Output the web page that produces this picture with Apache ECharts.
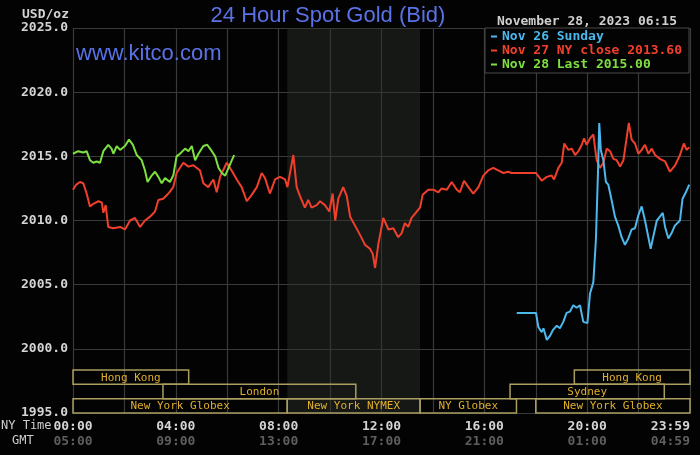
<!DOCTYPE html>
<html>
<head>
<meta charset="utf-8">
<script src="https://cdn.jsdelivr.net/npm/echarts@6/dist/echarts.min.js"></script>
<style>
html,body{margin:0;padding:0;background:#030303;}
#c{width:700px;height:455px;}
</style>
</head>
<body>
<div id="c"></div>
<script>
// ---- data (time in NY hours, price USD/oz) ----
const nov27Times = [0.00,0.13,0.27,0.40,0.53,0.66,0.79,0.99,1.12,1.18,1.27,1.37,1.57,1.83,2.02,2.22,2.41,2.61,2.80,3.00,3.19,3.32,3.51,3.71,3.90,4.03,4.29,4.49,4.68,4.94,5.07,5.26,5.46,5.59,5.72,5.98,6.17,6.37,6.56,6.76,6.95,7.15,7.34,7.47,7.66,7.86,8.05,8.25,8.34,8.57,8.70,8.83,9.02,9.15,9.28,9.48,9.61,9.80,9.97,10.10,10.20,10.32,10.51,10.65,10.78,10.97,11.16,11.36,11.55,11.66,11.75,11.88,12.07,12.27,12.46,12.65,12.78,12.91,13.04,13.17,13.37,13.50,13.60,13.82,14.02,14.21,14.34,14.54,14.73,14.93,15.05,15.21,15.38,15.57,15.77,15.96,16.15,16.35,16.54,16.74,16.93,17.06,18.01,18.23,18.43,18.62,18.71,18.88,19.01,19.11,19.27,19.40,19.53,19.66,19.79,19.88,19.98,20.11,20.24,20.37,20.50,20.63,20.76,20.89,21.02,21.15,21.28,21.41,21.54,21.62,21.73,21.86,21.99,22.12,22.25,22.38,22.51,22.64,22.83,23.03,23.22,23.42,23.61,23.76,23.87,23.97];
const nov27Values = [2012.4,2012.8,2013.0,2012.9,2012.1,2011.1,2011.3,2011.5,2011.4,2010.6,2011.2,2009.5,2009.4,2009.5,2009.3,2010.0,2010.2,2009.5,2010.0,2010.3,2010.7,2011.6,2011.7,2012.1,2012.6,2013.7,2014.5,2014.2,2014.3,2013.9,2012.9,2012.6,2013.2,2012.2,2013.4,2014.5,2013.9,2013.2,2012.6,2011.5,2012.0,2012.6,2013.7,2013.3,2012.1,2013.2,2013.4,2013.2,2012.6,2015.1,2012.6,2011.9,2011.0,2011.6,2011.0,2011.2,2011.5,2011.2,2010.7,2012.1,2010.0,2011.7,2012.6,2011.9,2010.3,2009.6,2008.9,2008.1,2007.8,2007.4,2006.3,2008.2,2010.2,2009.3,2009.4,2008.7,2009.0,2009.8,2009.5,2010.2,2010.7,2011.0,2012.0,2012.4,2012.4,2012.2,2012.5,2012.4,2013.0,2012.4,2012.2,2013.1,2012.6,2012.1,2012.6,2013.5,2013.9,2014.1,2013.9,2013.7,2013.8,2013.7,2013.7,2013.1,2013.4,2013.5,2013.2,2014.1,2014.5,2016.0,2015.5,2015.6,2015.1,2015.4,2015.9,2016.4,2015.9,2016.4,2016.7,2014.7,2014.1,2014.5,2015.6,2015.4,2014.8,2014.7,2014.2,2014.7,2016.5,2017.6,2016.3,2016.0,2015.2,2015.5,2015.9,2015.2,2015.6,2015.1,2014.8,2014.6,2013.8,2014.3,2015.1,2016.0,2015.5,2015.7];

const nov26Times = [17.26,18.01,18.10,18.23,18.30,18.43,18.55,18.68,18.82,18.94,19.07,19.20,19.33,19.46,19.59,19.72,19.85,20.01,20.11,20.24,20.34,20.42,20.47,20.53,20.63,20.73,20.82,20.95,21.08,21.21,21.34,21.47,21.60,21.73,21.86,21.99,22.12,22.25,22.38,22.47,22.60,22.71,22.83,22.94,23.03,23.16,23.28,23.41,23.61,23.71,23.84,23.97];
const nov26Values = [2002.8,2002.8,2001.7,2001.3,2001.6,2000.7,2001.0,2001.5,2001.8,2001.6,2002.1,2002.8,2002.9,2003.4,2003.2,2003.4,2002.1,2002.0,2004.3,2005.2,2008.5,2013.7,2017.6,2015.5,2014.7,2013.0,2012.8,2011.6,2010.3,2009.6,2008.7,2008.1,2008.6,2009.3,2009.4,2010.4,2011.1,2010.0,2008.7,2007.8,2009.0,2010.0,2010.3,2010.6,2009.5,2008.6,2009.0,2009.6,2010.0,2011.7,2012.2,2012.8];

const nov28Times = [0.00,0.20,0.40,0.53,0.66,0.79,0.92,1.05,1.18,1.37,1.50,1.57,1.70,1.83,2.02,2.18,2.33,2.48,2.67,2.80,2.90,3.06,3.19,3.32,3.45,3.58,3.77,3.90,4.03,4.16,4.36,4.49,4.62,4.75,4.88,5.07,5.22,5.40,5.53,5.66,5.79,5.92,6.05,6.18,6.27];
const nov28Values = [2015.2,2015.4,2015.3,2015.4,2014.7,2014.5,2014.6,2014.5,2015.4,2015.9,2015.6,2015.2,2015.8,2015.5,2015.8,2016.3,2015.9,2015.1,2014.7,2013.9,2013.0,2013.5,2013.8,2013.4,2012.9,2013.3,2013.0,2013.5,2015.0,2015.2,2015.6,2015.4,2015.8,2014.7,2015.2,2015.8,2015.9,2015.4,2015.0,2014.1,2013.7,2013.5,2014.1,2014.7,2015.1];

const seriesNames = ['Nov 26 Sunday','Nov 27 NY close 2013.60','Nov 28 Last 2015.00'];
const nyTickLabels  = ['00:00','04:00','08:00','12:00','16:00','20:00','23:59'];
const gmtTickLabels = ['05:00','09:00','13:00','17:00','21:00','01:00','04:59'];

const nymexStart = 8 + 20/60, nymexEnd = 13.5;
const sessionNames = ['Hong Kong','London','New York Globex','New York NYMEX','NY Globex','Sydney','Hong Kong','New York Globex'];
const sessionStart = [0, 3.5, 0, nymexStart, 13.5, 17.0, 19.5, 18.0];
const sessionEnd   = [4.5, 11.0, nymexStart, 13.5, 17.25, 23.0, 24, 24];
const sessionRow   = [0, 1, 2, 2, 2, 1, 0, 2];

// ---- chart ----
const zip = (t, v) => t.map((x, i) => [x, v[i]]);
const mono = 'DejaVu Sans Mono';
const chart = echarts.init(document.getElementById('c'));

chart.setOption({
  backgroundColor: '#030303',
  animation: false,
  title: {
    text: '24 Hour Spot Gold (Bid)',
    left: 323, top: 0, textAlign: 'center',
    textStyle: { color: '#5a72e6', fontFamily: 'Liberation Sans', fontSize: 22, fontWeight: 'normal' }
  },
  legend: {
    orient: 'vertical',
    left: 485, top: 28,
    padding: [2, 7, 2, 6],
    itemGap: 1,
    itemWidth: 6, itemHeight: 2,
    icon: 'rect',
    backgroundColor: '#030303',
    borderColor: '#4a4a4a', borderWidth: 1,
    data: [
      { name: seriesNames[0], textStyle: { color: '#4cb8ec' } },
      { name: seriesNames[1], textStyle: { color: '#f0402c' } },
      { name: seriesNames[2], textStyle: { color: '#7ee040' } }
    ],
    textStyle: { fontFamily: mono, fontSize: 13, lineHeight: 13, fontWeight: 'bold' }
  },
  graphic: [
    { type: 'text', left: 76, top: 43, z: 10,
      style: { text: 'www.kitco.com', fill: '#5a72e6', font: '22px "Liberation Sans"' } },
    { type: 'text', left: 497, top: 15,
      style: { text: 'November 28, 2023 06:15', fill: '#cfcfcf', font: 'bold 13px "DejaVu Sans Mono"' } },
    { type: 'text', left: 1, top: 420,
      style: { text: 'NY Time', fill: '#cfcfcf', font: '12px "DejaVu Sans Mono"' } },
    { type: 'text', left: 12, top: 435,
      style: { text: 'GMT', fill: '#cfcfcf', font: '12px "DejaVu Sans Mono"' } }
  ],
  grid: [
    { left: 73, right: 10, top: 28, bottom: 42 },
    { left: 73, right: 10, top: 370, bottom: 42 }
  ],
  xAxis: [
    {
      type: 'value', min: 0, max: 24, interval: 2, gridIndex: 0,
      axisLine: { show: false }, axisTick: { show: false },
      splitLine: { show: true, lineStyle: { color: '#3a3a3a', width: 1.2 } },
      axisLabel: {
        margin: 6,
        alignMaxLabel: 'right',
        formatter: v => {
          if (v % 4 !== 0 && v !== 24) return '';
          const i = Math.round(v / 4);
          return '{ny|' + nyTickLabels[i] + '}\n{gmt|' + gmtTickLabels[i] + '}';
        },
        rich: {
          ny:  { color: '#d4d4d4', fontFamily: mono, fontSize: 13, fontWeight: 'bold', lineHeight: 15 },
          gmt: { color: '#5e5e5e', fontFamily: mono, fontSize: 13, fontWeight: 'bold', lineHeight: 15 }
        }
      }
    },
    { type: 'value', min: 0, max: 24, gridIndex: 1, show: false }
  ],
  yAxis: [
    {
      type: 'value', min: 1995, max: 2025, interval: 5, gridIndex: 0,
      name: 'USD/oz', nameLocation: 'end', nameGap: 7,
      nameTextStyle: { color: '#d4d4d4', fontFamily: mono, fontSize: 13, fontWeight: 'bold', align: 'right', padding: [0, 4, 0, 0] },
      axisLine: { show: false }, axisTick: { show: false },
      splitLine: { show: true, lineStyle: { color: '#3a3a3a', width: 1.2 } },
      axisLabel: {
        margin: 5, color: '#d4d4d4', fontFamily: mono, fontSize: 13, fontWeight: 'bold',
        formatter: v => v.toFixed(1)
      }
    },
    { type: 'category', data: ['0', '1', '2'], inverse: true, gridIndex: 1, show: false }
  ],
  series: [
    {
      name: seriesNames[1], type: 'line', data: zip(nov27Times, nov27Values),
      showSymbol: false, lineStyle: { color: '#f0402c', width: 2 }, itemStyle: { color: '#f0402c' },
      z: 3,
      markArea: {
        silent: true,
        itemStyle: { color: 'rgba(44,52,44,0.45)' },
        data: [[{ xAxis: nymexStart }, { xAxis: nymexEnd }]]
      }
    },
    {
      name: seriesNames[0], type: 'line', data: zip(nov26Times, nov26Values),
      showSymbol: false, lineStyle: { color: '#4cb8ec', width: 2 }, itemStyle: { color: '#4cb8ec' }, z: 4
    },
    {
      name: seriesNames[2], type: 'line', data: zip(nov28Times, nov28Values),
      showSymbol: false, lineStyle: { color: '#7ee040', width: 2 }, itemStyle: { color: '#7ee040' }, z: 5
    },
    {
      type: 'custom', xAxisIndex: 1, yAxisIndex: 1, silent: true, z: 6,
      data: sessionNames.map((n, i) => [sessionStart[i], sessionEnd[i], sessionRow[i], n]),
      renderItem: (params, api) => {
        const row = api.value(2);
        const s = api.coord([api.value(0), row]);
        const e = api.coord([api.value(1), row]);
        const h = api.size([0, 1])[1];
        const name = sessionNames[params.dataIndex];
        return {
          type: 'group',
          children: [
            { type: 'rect', shape: { x: s[0], y: s[1] - h / 2, width: e[0] - s[0], height: h },
              style: { fill: 'none', stroke: '#a99d60', lineWidth: 1.5 } },
            { type: 'text', style: { text: name, x: (s[0] + e[0]) / 2, y: s[1] + 0.5,
              textAlign: 'center', textVerticalAlign: 'middle',
              fill: '#e0b02c', font: '11px "DejaVu Sans Mono"' } }
          ]
        };
      }
    }
  ]
});
</script>
</body>
</html>
